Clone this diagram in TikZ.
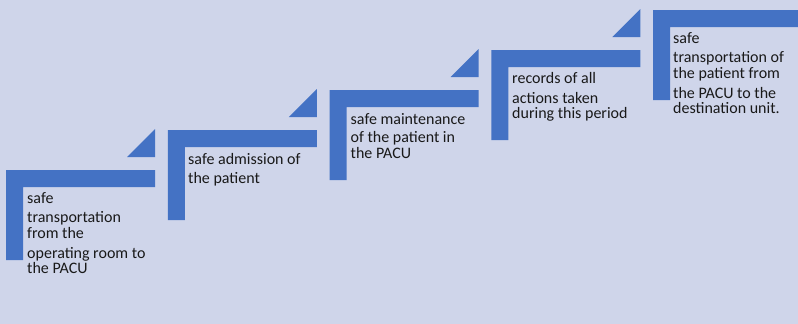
\documentclass[tikz,border=0pt]{standalone}
\usepackage{fontspec}
\setmainfont{Carlito}
\definecolor{bg}{HTML}{CFD5EA}
\definecolor{stepblue}{HTML}{4472C4}
\begin{document}
\begin{tikzpicture}[x=1pt,y=-1pt,
  stepshape/.style={fill=stepblue},
  steplabel/.style={anchor=base west,inner sep=0pt,align=left,
    font=\fontsize{16}{16}\selectfont,text=black!90}]
\useasboundingbox (0,0) rectangle (798,324);
\clip (0,0) rectangle (798,324);
\fill[bg] (0,0) rectangle (798,324);
\foreach \i in {0,...,4}{
  \pgfmathsetmacro\xo{6+161.75*\i}
  \pgfmathsetmacro\yo{170-40*\i}
  \fill[stepshape] (\xo,\yo) -- ++(149,0) -- ++(0,17) -- ++(-132,0) -- ++(0,73) -- ++(-17,0) -- cycle;
  \fill[stepshape] (\xo+121,\yo-13) -- ++(28,0) -- ++(0,-28) -- cycle;
}
% anchors are at the baseline of the last line of each text
\node[steplabel] (t1) at (27,273) {safe\\[3pt]transportation\\from the\\[4pt]operating room to\\[-1pt]the PACU};
\node[steplabel] (t2) at (188,183) {safe admission of\\[3pt]the patient};
\node[steplabel] (t3) at (350.5,158) {safe maintenance\\[2pt]of the patient in\\the PACU};
\node[steplabel] (t4) at (512,118) {records of all\\[4pt]actions taken\\[-1pt]during this period};
\node[steplabel] (t5) at (673,113) {safe\\[3pt]transportation of\\the patient from\\[4pt]the PACU to the\\[-1pt]destination unit.};
\end{tikzpicture}
\end{document}
